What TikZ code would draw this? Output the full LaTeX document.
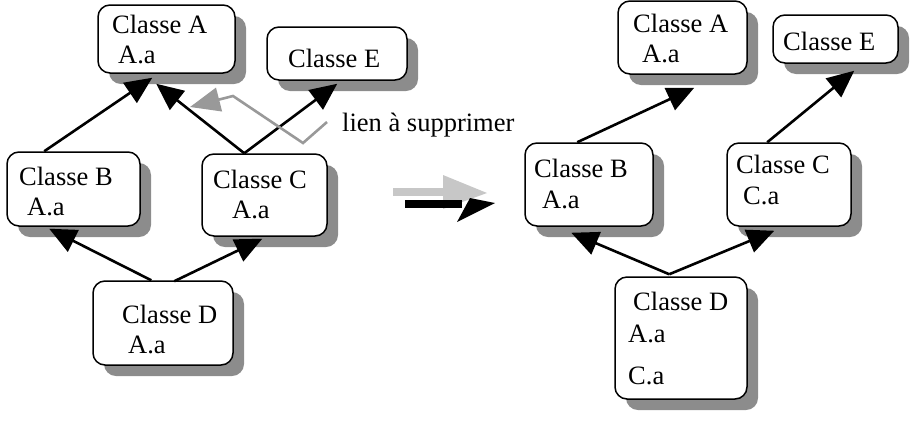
\documentclass[tikz,border=0pt]{standalone}
\usepackage{fontspec}
\setmainfont{Liberation Serif}
\usetikzlibrary{arrows.meta,shadows,calc}
\tikzset{
  box/.style={draw=black, line width=1.5pt, fill=white, rounded corners=12pt,
    inner sep=0pt,
    drop shadow={shadow xshift=11pt, shadow yshift=-11pt, fill=black!45, opacity=1}},
  txt/.style={anchor=base west, inner sep=0pt, font=\fontsize{26.5}{30}\selectfont},
  conn/.style={line width=2.6pt, -{Triangle[length=27pt,width=24pt]}},
  gconn/.style={draw=black!40, line width=2.6pt, -{Triangle[length=30pt,width=24pt]}}
}
\begin{document}
\begin{tikzpicture}[x=1pt,y=-1pt]
\useasboundingbox (0,0) rectangle (912,424);
% ---------- left diagram ----------
\node[box, minimum width=137pt, minimum height=68pt] (Al) at (166.5,39) {};
\node[box, minimum width=140pt, minimum height=53pt] (El) at (337,53.5) {};
\node[box, minimum width=133pt, minimum height=74pt] (Bl) at (73.5,189) {};
\node[box, minimum width=125pt, minimum height=82pt] (Cl) at (264.5,195) {};
\node[box, minimum width=140pt, minimum height=84pt] (Dl) at (163,323) {};
\node[txt] (tAl1) at (112,33) {Classe A};
\node[txt] (tAl2) at (118,63) {A.a};
\node[txt] (tEl1) at (288,67) {Classe E};
\node[txt] (tBl1) at (19,185) {Classe B};
\node[txt] (tBl2) at (27,215) {A.a};
\node[txt] (tCl1) at (213,188) {Classe C};
\node[txt] (tCl2) at (232,218) {A.a};
\node[txt] (tDl1) at (122,323) {Classe D};
\node[txt] (tDl2) at (128,353) {A.a};
\node[txt] (lien) at (342,131) {lien à supprimer};
\draw[conn] ($(Bl.north west)+(38,0)$) -- ($(Al.south west)+(55,4)$);
\draw[conn] ($(Cl.north west)+(43,0)$) -- ($(Al.south west)+(59,10)$);
\draw[conn] ($(Cl.north west)+(43,0)$) -- ($(El.south west)+(71,3)$);
\draw[conn] ($(Dl.north west)+(59,0)$) -- ($(Bl.south west)+(43,2)$);
\draw[conn] ($(Dl.north west)+(82,1)$) -- ($(Cl.south west)+(61,2)$);
\coordinate (g0) at (327,122);
\coordinate (g1) at (303,143);
\coordinate (g2) at (233,96);
\coordinate (g3) at (190,107);
\draw[gconn] (g0) -- (g1) -- (g2) -- (g3);
% ---------- transformation arrows ----------
\fill[black!22] (393,188) rectangle (445,196);
\fill[black!22] (443,175) -- (487,193) -- (443,209) -- cycle;
\fill[black] (405,200) rectangle (462,208);
\fill[black] (470,198) -- (495,203) -- (457,222) -- cycle;
% ---------- right diagram ----------
\node[box, minimum width=129pt, minimum height=73pt] (Ar) at (682.5,37.5) {};
\node[box, minimum width=125pt, minimum height=48pt] (Er) at (835.5,39) {};
\node[box, minimum width=128pt, minimum height=83pt] (Br) at (589,184.5) {};
\node[box, minimum width=124pt, minimum height=83pt] (Cr) at (789,184.5) {};
\node[box, minimum width=132pt, minimum height=122pt] (Dr) at (681,338) {};
\node[txt] (tAr1) at (633,32) {Classe A};
\node[txt] (tAr2) at (642,62) {A.a};
\node[txt] (tEr1) at (783,50) {Classe E};
\node[txt] (tBr1) at (534,177) {Classe B};
\node[txt] (tBr2) at (542,208) {A.a};
\node[txt] (tCr1) at (736,173) {Classe C};
\node[txt] (tCr2) at (743,204) {C.a};
\node[txt] (tDr1) at (633,310) {Classe D};
\node[txt] (tDr2) at (628,342) {A.a};
\node[txt] (tDr3) at (628,384) {C.a};
\draw[conn] ($(Br.north west)+(53,0)$) -- ($(Ar.south west)+(77,13)$);
\draw[conn] ($(Cr.north west)+(41,0)$) -- ($(Er.south west)+(82,7)$);
\draw[conn] ($(Dr.north west)+(55,-2)$) -- ($(Br.south west)+(47,6)$);
\draw[conn] ($(Dr.north west)+(55,-2)$) -- ($(Cr.south west)+(48,4)$);
\end{tikzpicture}
\end{document}
